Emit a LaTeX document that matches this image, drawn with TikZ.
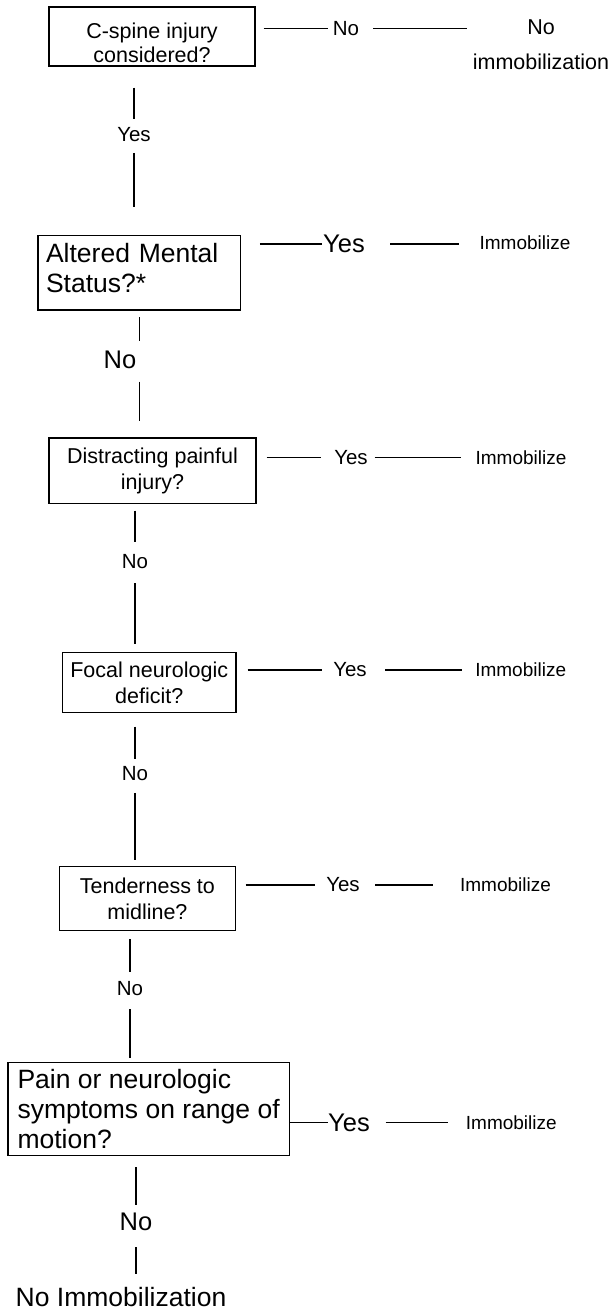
\documentclass[tikz,border=0pt]{standalone}
\usepackage{fontspec}
\setmainfont{Liberation Sans}
\usepackage{xcolor}
\usepackage{tikz}

\begin{document}
\begin{tikzpicture}[x=1pt,y=-1pt]
	\tikzstyle{question} = [draw, line width=1.4pt, inner sep=0pt, align=center, font=\fontsize{21.5}{25.5}\selectfont]
	\tikzstyle{bigquestion} = [draw, line width=1.4pt, inner xsep=8pt, inner ysep=0pt, align=left, font=\fontsize{26.5}{30}\selectfont]
	\tikzstyle{answer} = [inner sep=0pt, font=\fontsize{20.5}{24}\selectfont]
	\tikzstyle{biganswer} = [inner sep=0pt, font=\fontsize{25.5}{30}\selectfont]
	\tikzstyle{result} = [inner sep=0pt, font=\fontsize{19}{23}\selectfont]
	\tikzset{edge/.style = {-, line width=1.5pt}}

	\useasboundingbox (0,0) rectangle (610,1312);

	\node[question, minimum width=206pt, minimum height=59pt, font=\fontsize{21.5}{24}\selectfont](check1) at (152,36.5) {\rule{0pt}{28.5pt}C-spine injury\\considered?};
	\node[answer](no1) at (346,28.3) {No};
	\node[result, align=center, font=\fontsize{21.5}{35}\selectfont](noimm1) at (541,45) {No\\immobilization};
	\draw[edge, shorten <=8pt, shorten >=5pt](check1.east |- no1) to (no1.west);
	\draw[edge, shorten <=14pt, shorten >=6pt](no1.east) to (noimm1.west |- no1);

	\node[answer](yes1) at (134,135) {Yes};
	\draw[edge, shorten <=21pt, shorten >=8.6pt](yes1 |- check1.south) to (yes1.north);

	\node[bigquestion, minimum width=202.5pt, minimum height=74.3pt, text width=186.5pt](check2) at (139.3,272.9) {Altered Mental\\Status?*\rule[-10pt]{0pt}{10pt}};
	\draw[edge, shorten <=10.6pt, shorten >=27.7pt](yes1.south) to (yes1 |- check2.north);
	\node[biganswer](yes2) at (344,244) {Yes};
	\node[result](imm2) at (525,243) {Immobilize};
	\draw[edge, shorten <=18.5pt, shorten >=1pt](check2.east |- yes2) to (yes2.west);
	\draw[edge, shorten <=25pt, shorten >=20pt](yes2.east) to (imm2.west |- yes2);

	\node[biganswer](no2) at (120,360) {No};
	\draw[edge, shorten <=6.6pt, shorten >=10.2pt](check2.south) to (check2.south |- no2.north);

	\node[question, minimum width=207pt, minimum height=65.3pt](check3) at (152.5,470.7) {Distracting painful\\injury?};
	\draw[edge, shorten <=12.6pt, shorten >=16.3pt](check2.south |- no2.south) to (check2.south |- check3.north);
	\node[answer](yes3) at (351,457.3) {Yes};
	\node[result](imm3) at (521,457.3) {Immobilize};
	\draw[edge, shorten <=10pt, shorten >=12.6pt](check3.east |- yes3) to (yes3.west);
	\draw[edge, shorten <=6.8pt, shorten >=14.1pt](yes3.east) to (imm3.west |- yes3);

	\node[answer](no3) at (135,561.7) {No};
	\draw[edge, shorten <=6.6pt, shorten >=12.6pt](no3 |- check3.south) to (no3.north);

	\node[question, minimum width=173.2pt, minimum height=60pt](check4) at (149.2,682.7) {Focal neurologic\\deficit?};
	\draw[edge, shorten <=14.2pt, shorten >=7.7pt](no3.south) to (no3 |- check4.north);
	\node[answer](yes4) at (350,670) {Yes};
	\node[result](imm4) at (520.7,670) {Immobilize};
	\draw[edge, shorten <=11.2pt, shorten >=10.9pt](check4.east |- yes4) to (yes4.west);
	\draw[edge, shorten <=18.4pt, shorten >=12.7pt](yes4.east) to (imm4.west |- yes4);

	\node[answer](no4) at (135,774) {No};
	\draw[edge, shorten <=13.3pt, shorten >=7.3pt](no4 |- check4.south) to (no4.north);

	\node[question, minimum width=176pt, minimum height=64pt](check5) at (147.4,898.7) {Tenderness to\\midline?};
	\draw[edge, shorten <=11.6pt, shorten >=5.7pt](no4.south) to (no4 |- check5.north);
	\node[answer](yes5) at (343,885) {Yes};
	\node[result](imm5) at (505.5,885) {Immobilize};
	\draw[edge, shorten <=9.6pt, shorten >=10.6pt](check5.east |- yes5) to (yes5.west);
	\draw[edge, shorten <=15.4pt, shorten >=27.1pt](yes5.east) to (imm5.west |- yes5);

	\node[answer](no5) at (130,988.3) {No};
	\draw[edge, shorten <=7.6pt, shorten >=9.2pt](no5 |- check5.south) to (no5.north);

	\node[bigquestion, minimum width=281.6pt, minimum height=93.4pt](check6) at (148.6,1109) {Pain or neurologic\\symptoms on range of\\motion?};
	\draw[edge, shorten <=13.6pt, shorten >=4pt](no5.south) to (no5 |- check6.north);
	\node[biganswer](yes6) at (349,1122.7) {Yes};
	\node[result](imm6) at (511.3,1122.7) {Immobilize};
	\draw[edge, shorten >=0.5pt](check6.east |- yes6) to (yes6.west);
	\draw[edge, shorten <=15.5pt, shorten >=18.1pt](yes6.east) to (imm6.west |- yes6);

	\node[biganswer](no6) at (136,1221.7) {No};
	\draw[edge, shorten <=11pt, shorten >=7.5pt](no6 |- check6.south) to (no6.north);

	\node[biganswer, font=\fontsize{26.5}{30}\selectfont](noimm2) at (121,1296.7) {No Immobilization};
	\draw[edge, shorten <=16.4pt, shorten >=13pt](no6.south) to (no6 |- noimm2.north);

\end{tikzpicture}
\end{document}
